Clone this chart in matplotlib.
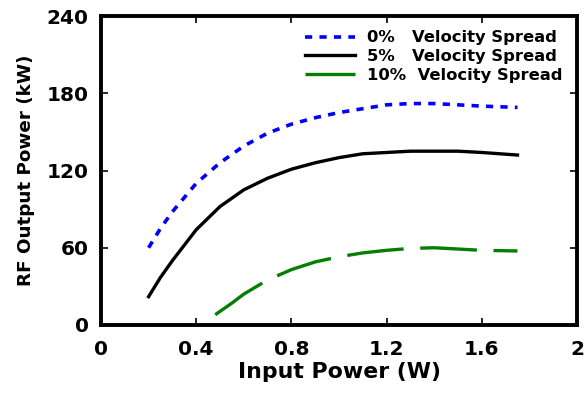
import matplotlib
matplotlib.use("Agg")
import matplotlib.pyplot as plt

# input power (W) and RF output power (kW)
x_0 = [0.2, 0.25, 0.3, 0.4, 0.5, 0.6, 0.7, 0.8, 0.9, 1.0, 1.1, 1.2, 1.3, 1.4, 1.5, 1.6, 1.75]
y_0 = [60, 75, 88, 110, 126, 139, 149, 156, 161, 165, 168, 171, 172, 172, 171, 170, 169]

x_5 = [0.2, 0.25, 0.3, 0.4, 0.5, 0.6, 0.7, 0.8, 0.9, 1.0, 1.1, 1.2, 1.3, 1.4, 1.5, 1.6, 1.75]
y_5 = [22, 37, 50, 74, 92, 105, 114, 121, 126, 130, 133, 134, 135, 135, 135, 134, 132]

x_10 = [0.48, 0.55, 0.6, 0.7, 0.8, 0.9, 1.0, 1.1, 1.2, 1.3, 1.4, 1.5, 1.6, 1.75]
y_10 = [8, 17, 24, 35, 43, 49, 53, 56, 58, 59.5, 60, 59, 58, 57.5]

labels = ["0%   Velocity Spread", "5%   Velocity Spread", "10%  Velocity Spread"]

plt.rcParams["font.family"] = ["DejaVu Sans"]
plt.rcParams["font.weight"] = "bold"

fig = plt.figure(figsize=(5.87, 3.93), dpi=100)
ax = fig.add_axes([101 / 587, 68 / 393, 476 / 587, 309 / 393])

ax.plot(x_0, y_0, color="#0000ff", lw=2.6, dashes=(2.0, 2.0), label=labels[0])
ax.plot(x_5, y_5, color="black", lw=2.4, label=labels[1])
ax.plot(x_10, y_10, color="#007f00", lw=2.4, dashes=(17, 5), label=labels[2])

ax.set_xlim(0, 2)
ax.set_ylim(0, 240)
ax.set_xticks([0, 0.4, 0.8, 1.2, 1.6, 2])
ax.set_xticklabels(["0", "0.4", "0.8", "1.2", "1.6", "2"])
ax.set_yticks([0, 60, 120, 180, 240])
ax.tick_params(direction="in", top=True, right=True, length=5, width=1.2,
               labelsize=14.5)
ax.tick_params(axis="x", pad=11)
ax.tick_params(axis="y", pad=9)
for lab in ax.get_xticklabels() + ax.get_yticklabels():
    lab.set_fontweight("bold")
for sp in ax.spines.values():
    sp.set_linewidth(2.8)

ax.set_xlabel("Input Power (W)", fontsize=15.8, fontweight="bold", labelpad=2)
ax.set_ylabel("RF Output Power (kW)", fontsize=13.2, fontweight="bold", labelpad=8)

leg = ax.legend(loc="upper right", bbox_to_anchor=(0.99, 0.985), frameon=False,
                fontsize=11.8, handlelength=3.05, borderaxespad=0.2,
                labelspacing=0.22, handletextpad=0.75)
for t in leg.get_texts():
    t.set_fontweight("bold")

fig.savefig("out.png", dpi=100)
